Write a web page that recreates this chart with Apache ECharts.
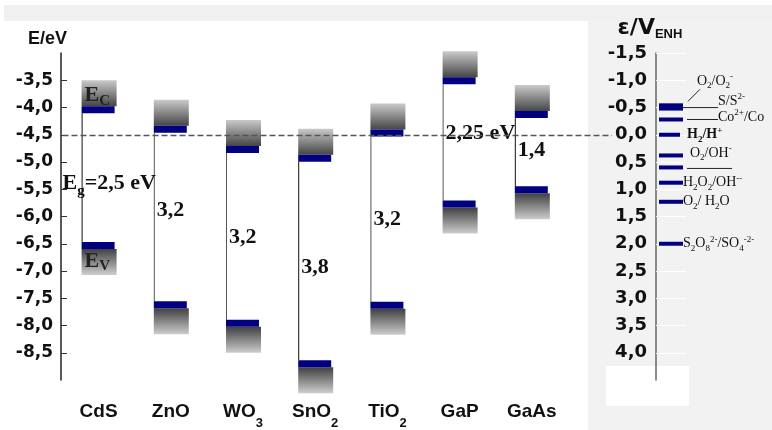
<!DOCTYPE html>
<html><head><meta charset="utf-8">
<script src="https://cdn.jsdelivr.net/npm/echarts@6/dist/echarts.min.js"></script>
<style>html,body{margin:0;padding:0;background:#fff}#c{width:772px;height:430px}</style>
</head><body><div id="c"></div>
<script>
// ---- data ----
const materials = ['CdS', 'ZnO', 'WO3', 'SnO2', 'TiO2', 'GaP', 'GaAs'];
const materialLabels = ['CdS', 'ZnO', 'WO{s|3}', 'SnO{s|2}', 'TiO{s|2}', 'GaP', 'GaAs'];
const conductionBand = [-4.04, -4.40, -4.77, -4.93, -4.47, -3.51, -4.13];   // eV
const valenceBand    = [-6.53, -7.62, -7.96, -8.70, -7.63, -5.77, -5.51];   // eV
const gapLabels = ['E{g|g}=2,5 eV', '3,2', '3,2', '3,8', '3,2', '2,25 eV', '1,4'];
const gapLabelLevel = [-5.39, -5.88, -6.38, -6.94, -6.06, -4.47, -4.78];    // eV
const redoxLabels = ['O{b|2}/O{b|2}{p|-}', 'S/S{p|2-}', 'Co{p|2+}/Co', 'H{b|2}/H{p|+}', 'O{b|2}/OH{p|-}', '',
                     'H{b|2}O{b|2}/OH{p|--}', 'O{b|2}/ H{b|2}O', 'S{b|2}O{b|8}{p|2-}/SO{b|4}{p|-2-}'];
const redoxPotential = [-0.54, -0.48, -0.28, 0.0, 0.38, 0.60, 0.88, 1.23, 2.00];   // V vs NHE
const nheZeroEnergy = -4.5;   // eV, level of 0 V NHE
const energyRange = [-9, -3];
const potentialRange = [-1.5, 4.5];
const tickStep = 0.5;

// ---- layout / style (not data) ----
const redoxLayout = [
  {dx: 38, dy: -24, leader: [29, -4, 41, -16]},
  {dx: 59, dy: -7, leader: [24, -1, 59, -1]},
  {dx: 59, dy: -2, leader: [28, 0, 59, 0]},
  {dx: 28, dy: 0, bold: true, barW: 21},
  {dx: 31, dy: -2},
  {leader: [28, 1, 73, 1]},
  {dx: 24, dy: 0},
  {dx: 24, dy: 0},
  {dx: 24, dy: 0}
];
const fmt = v => v.toFixed(1).replace('.', ',');
const SERIF = 'Liberation Serif';
const gradUp = new echarts.graphic.LinearGradient(0, 0, 0, 1, [
  {offset: 0, color: '#cacaca'}, {offset: 1, color: '#454545'}]);
const gradDown = new echarts.graphic.LinearGradient(0, 0, 0, 1, [
  {offset: 0, color: '#404040'}, {offset: 1, color: '#cdcdcd'}]);

function renderBand(params, api) {
  const idx = params.dataIndex;
  const cb = api.coord([api.value(0), api.value(1)]);
  const vb = api.coord([api.value(0), api.value(2)]);
  const lab = api.coord([api.value(0), api.value(3)]);
  const left = cb[0] - 17, w = 35, barW = 33, barH = 7, boxH = 26;
  const lineColor = (idx === 0 || idx === 3 || idx === 6) ? '#111' : '#555';
  const children = [
    {type: 'rect', shape: {x: left, y: cb[1] - barH / 2 - boxH, width: w, height: boxH}, style: {fill: gradUp}},
    {type: 'rect', shape: {x: left, y: vb[1] + barH / 2, width: w, height: boxH}, style: {fill: gradDown}},
    {type: 'line', shape: {x1: left + 0.5, y1: cb[1] + barH / 2, x2: left + 0.5, y2: vb[1] - barH / 2},
      style: {stroke: lineColor, lineWidth: 1}},
    {type: 'rect', shape: {x: left, y: cb[1] - barH / 2, width: barW, height: barH}, style: {fill: '#000080'}},
    {type: 'rect', shape: {x: left, y: vb[1] - barH / 2, width: barW, height: barH}, style: {fill: '#000080'}},
    {type: 'text', z2: 10, style: {
      text: gapLabels[idx], x: left + (idx === 0 ? -19 : 3), y: lab[1],
      fontFamily: SERIF, fontSize: 22, fontWeight: 'bold', fill: '#111',
      align: 'left', verticalAlign: 'middle', lineHeight: 30,
      rich: {g: {fontFamily: SERIF, fontSize: 15, fontWeight: 'bold', fill: '#111', verticalAlign: 'bottom', lineHeight: 30}}
    }}
  ];
  if (idx === 0) {
    const richE = {s: {fontFamily: SERIF, fontSize: 15, fontWeight: 'bold', fill: '#222', verticalAlign: 'bottom', lineHeight: 26}};
    children.push({type: 'text', z2: 10, style: {text: 'E{s|C}', x: left + 3, y: cb[1] - barH / 2 + 2,
      fontFamily: SERIF, fontSize: 22, fontWeight: 'bold', fill: '#222', align: 'left', verticalAlign: 'bottom', lineHeight: 26, rich: richE}});
    children.push({type: 'text', z2: 10, style: {text: 'E{s|V}', x: left + 3, y: vb[1] + barH / 2 - 1,
      fontFamily: SERIF, fontSize: 22, fontWeight: 'bold', fill: '#222', align: 'left', verticalAlign: 'top', lineHeight: 26, rich: richE}});
  }
  return {type: 'group', children};
}

function renderRedox(params, api) {
  const idx = params.dataIndex;
  const xr = params.coordSys.x + params.coordSys.width;
  const y = api.coord([0, api.value(1)])[1];
  const x0 = xr + 3;
  const L = redoxLayout[idx];
  const children = [{type: 'rect', shape: {x: x0, y: y - 2, width: L.barW || 24, height: 4}, style: {fill: '#000080'}}];
  if (L.leader) {
    children.push({type: 'line', shape: {x1: x0 + L.leader[0], y1: y + L.leader[1], x2: x0 + L.leader[2], y2: y + L.leader[3]},
      style: {stroke: '#222', lineWidth: 1}});
  }
  if (redoxLabels[idx]) {
    const wt = L.bold ? 'bold' : 'normal';
    children.push({type: 'text', style: {
      text: redoxLabels[idx], x: x0 + L.dx, y: y + L.dy, align: 'left', verticalAlign: 'middle',
      fontFamily: SERIF, fontSize: 14, fontWeight: wt, fill: '#111', lineHeight: 18,
      rich: {
        b: {fontFamily: SERIF, fontSize: 9, fontWeight: wt, fill: '#111', verticalAlign: 'bottom', lineHeight: 18},
        p: {fontFamily: SERIF, fontSize: 9, fontWeight: wt, fill: '#111', verticalAlign: 'top', lineHeight: 18}
      }
    }});
  }
  return {type: 'group', children};
}

const chart = echarts.init(document.getElementById('c'), null, {renderer: 'canvas'});
chart.setOption({
  animation: false,
  backgroundColor: '#ffffff',
  graphic: [
    {type: 'rect', z: -100, silent: true, shape: {x: 4, y: 5, width: 768, height: 16}, style: {fill: '#f0f0f0'}},
    {type: 'rect', z: -100, silent: true, shape: {x: 588, y: 21, width: 184, height: 409}, style: {fill: '#f2f2f2'}},
    {type: 'rect', z: -99, silent: true, shape: {x: 606, y: 366, width: 83, height: 40}, style: {fill: '#ffffff'}}
  ],
  grid: {left: 62.5, right: 116, top: 53, bottom: 50, containLabel: false},
  xAxis: {
    type: 'value', min: -0.5, max: materials.length + 0.72, interval: 0.5,
    axisLine: {show: false, onZero: false}, axisTick: {show: false}, splitLine: {show: false},
    axisLabel: {
      margin: 14, lineHeight: 36,
      fontFamily: 'Liberation Sans', fontSize: 19, fontWeight: 'bold', color: '#111',
      formatter: v => {
        const r = Math.round(v);
        return (Math.abs(v - r) < 1e-6 && r >= 0 && r < materials.length) ? materialLabels[r] : '';
      },
      rich: {s: {fontFamily: 'Liberation Sans', fontSize: 13, fontWeight: 'bold', color: '#111', verticalAlign: 'bottom', lineHeight: 36}}
    }
  },
  yAxis: [
    {
      type: 'value', min: energyRange[0], max: energyRange[1], interval: tickStep, offset: 1.5,
      name: 'E/eV', nameLocation: 'end', nameGap: 5,
      nameTextStyle: {fontFamily: 'Liberation Sans', fontSize: 18, fontWeight: 'bold', color: '#111', align: 'center', padding: [0, 27, 0, 0]},
      axisLine: {show: true, onZero: false, lineStyle: {color: '#222', width: 1.5}},
      axisTick: {show: true, inside: true, length: 6, lineStyle: {color: '#333'}},
      splitLine: {show: false},
      axisLabel: {showMinLabel: false, showMaxLabel: false, margin: 8, formatter: fmt,
        fontFamily: 'DejaVu Sans', fontSize: 17, fontWeight: 'bold', color: '#111'}
    },
    {
      type: 'value', min: potentialRange[0], max: potentialRange[1], interval: tickStep, inverse: true, position: 'right',
      name: '{a|ε/V}{b|ENH}', nameLocation: 'start', nameGap: 12,
      nameTextStyle: {align: 'center', padding: [0, 12, 0, 0], lineHeight: 26,
        rich: {a: {fontFamily: 'DejaVu Sans', fontSize: 22, fontWeight: 'bold', color: '#111', lineHeight: 26},
               b: {fontFamily: 'Liberation Sans', fontSize: 13, fontWeight: 'bold', color: '#111', verticalAlign: 'bottom', lineHeight: 26}}},
      axisLine: {show: true, onZero: false, lineStyle: {color: '#666', width: 1.5}},
      axisTick: {show: true, inside: false, length: 30, lineStyle: {color: '#ffffff', width: 1}},
      splitLine: {show: false},
      axisLabel: {inside: true, showMaxLabel: false, margin: 9, formatter: fmt,
        fontFamily: 'DejaVu Sans', fontSize: 18, fontWeight: 'bold', color: '#111'}
    }
  ],
  series: [
    {
      type: 'line', data: [], z: 1, silent: true,
      markLine: {
        silent: true, symbol: 'none', label: {show: false},
        lineStyle: {type: [6, 3], color: '#555', width: 1.3},
        data: [[{coord: [-0.5, nheZeroEnergy]}, {coord: [7.11, nheZeroEnergy]}]]
      }
    },
    {
      type: 'custom', z: 3, xAxisIndex: 0, yAxisIndex: 0, clip: false,
      renderItem: renderBand,
      data: materials.map((m, i) => [i, conductionBand[i], valenceBand[i], gapLabelLevel[i]])
    },
    {
      type: 'custom', z: 3, xAxisIndex: 0, yAxisIndex: 1, clip: false,
      renderItem: renderRedox,
      data: redoxPotential.map(p => [0, p])
    }
  ]
});
</script></body></html>
